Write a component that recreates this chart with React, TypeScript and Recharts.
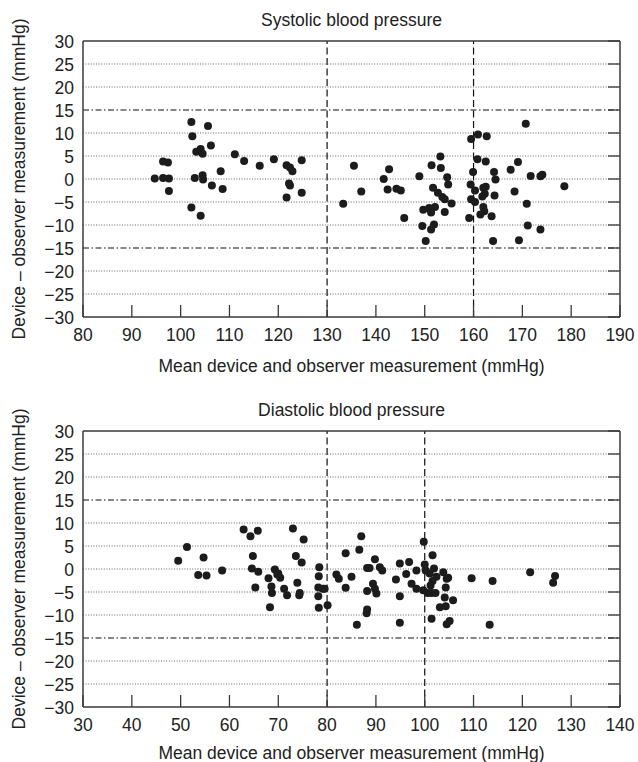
import React from 'react';
import { ScatterChart, Scatter, XAxis, YAxis, ReferenceLine } from 'recharts';

const systolicMean = [102.2,105.6,102.4,106.2,103.2,104.1,104.5,111.1,113.0,116.2,119.1,96.4,97.4,94.7,96.4,97.6,97.6,102.9,104.5,104.6,108.2,106.4,108.6,102.2,104.1,
121.7,122.4,122.9,124.8,122.2,122.4,121.7,124.8,135.5,133.3,137.0,141.6,142.7,142.4,144.2,145.1,145.8,148.9,151.4,153.2,153.3,154.6,151.7,152.7,153.6,154.1,149.7,150.9,152.1,151.3,154.1,149.5,151.9,151.3,150.2,
170.7,159.5,160.9,162.7,160.8,162.5,159.9,164.2,164.5,167.6,169.1,171.7,173.7,174.1,178.6,154.8,159.4,160.3,162.0,162.5,162.3,161.8,164.3,168.4,155.5,159.5,160.3,162.0,162.2,161.4,163.7,159.1,170.9,171.1,173.7,164.0,169.3];
const systolicDiff = [12.4,11.5,9.3,7.3,5.9,6.5,5.5,5.4,3.9,2.9,4.3,3.8,3.6,0.1,0.2,0.1,-2.6,0.2,0.8,-0.1,1.7,-1.4,-2.2,-6.2,-8.0,
3.0,2.5,1.7,4.1,-1.0,-1.4,-4.0,-3.0,2.9,-5.4,-2.7,0,2.1,-2.3,-2.1,-2.5,-8.5,0.6,3.0,4.9,2.4,0.4,-1.9,-3.0,-3.9,-4.4,-6.7,-6.3,-6.1,-7.3,-7.2,-10.2,-9.9,-11.0,-13.5,
12.0,8.7,9.7,9.3,4.3,3.8,1.5,1.5,-0.1,2.0,3.7,0.65,0.6,0.9,-1.6,-1.2,-1.2,-2.5,-1.9,-1.7,-3.2,-3.8,-3.6,-2.7,-5.3,-4.4,-5.0,-6.1,-7.0,-7.7,-8.1,-8.5,-5.4,-10.1,-11.0,-13.5,-13.3];

const diastolicMean = [49.5,51.3,54.7,53.6,55.3,58.5,62.9,64.3,65.8,64.8,64.6,65.9,65.3,69.3,69.8,68.0,68.6,68.7,68.3,
70.0,70.4,71.2,71.8,73.0,75.2,73.6,74.8,73.9,74.4,74.3,78.4,78.3,78.2,79.1,79.5,78.2,78.3,80.1,81.9,82.4,83.8,85.0,83.8,87.0,86.6,86.1,88.2,88.7,89.8,90.8,91.3,89.4,89.8,90.1,88.2,88.2,88.1,94.9,96.8,94.1,96.2,94.9,94.9,99.8,98.3,100.0,100.2,97.3,98.3,99.7,100.6,101.4,102.2,101.6,101.0,101.9,102.4,101.6,101.2,101.4,103.8,104.5,104.3,104.1,104.3,103.1,104.5,
104.8,105.8,105.1,109.6,113.9,113.3,121.6,126.7,126.3];
const diastolicDiff = [1.8,4.8,2.5,-1.3,-1.4,-0.3,8.6,7.1,8.3,2.8,0.1,-0.6,-4.0,-0.1,-1.2,-2.0,-3.8,-5.2,-8.3,
-1.0,-1.9,-4.3,-5.7,8.8,6.4,2.8,1.4,-3.0,-5.2,-5.7,0.4,-1.6,-4.0,-4.3,-4.3,-5.9,-8.4,-7.9,-1.2,-2.1,3.4,-1.7,-4.1,7.1,4.2,-12.1,0.2,0.2,2.1,0.4,-0.3,-3.2,-4.3,-5.3,-4.8,-8.8,-9.6,1.2,1.5,-2.3,-1.1,-5.9,-11.7,5.9,-0.3,1.0,-0.3,-3.2,-4.3,-4.6,-5.2,-5.2,-5.2,3.0,-1.0,0.1,-1.7,-2.6,-3.6,-10.8,-0.7,-2.1,-4.0,-6.2,-8.1,-8.3,-12.0,
-1.9,-6.8,-11.3,-2.0,-2.6,-12.1,-0.7,-1.5,-3.0];

const yTicks = [-30,-25,-20,-15,-10,-5,0,5,10,15,20,25,30];
const gridValues = [-25,-20,-10,-5,0,5,10,20,25];
const limitValues = [-15,15];
const systolicTicks = [80,90,100,110,120,130,140,150,160,170,180,190];
const diastolicTicks = [30,40,50,60,70,80,90,100,110,120,130,140];
const systolicCuts = [130,160];
const diastolicCuts = [80,100];

const FONT = '"Liberation Sans", Arial, Helvetica, sans-serif';
const FS = 17.5;
const TXT = '#222';
const AX = '#3a3a3a';
const TL = 12;

const fmt = (v: number) => (v < 0 ? '\u2212' + Math.abs(v) : String(v));

const BottomTick = (p: any) => (
  <g>
    <line x1={p.x} x2={p.x} y1={p.y} y2={p.y - TL} stroke={AX} strokeWidth={1.3} />
    <text x={p.x} y={p.y + 24} textAnchor="middle" fontSize={FS} fontFamily={FONT} fill={TXT}>{p.payload.value}</text>
  </g>
);
const TopTick = (p: any) => (
  <line x1={p.x} x2={p.x} y1={p.y} y2={p.y + TL} stroke={AX} strokeWidth={1.3} />
);
const LeftTick = (p: any) => (
  <text x={p.x - 9} y={p.y + 6.5} textAnchor="end" fontSize={FS} fontFamily={FONT} fill={TXT}>{fmt(p.payload.value)}</text>
);
const RightTick = (p: any) => (
  <line x1={p.x} x2={p.x - TL} y1={p.y} y2={p.y} stroke={AX} strokeWidth={1.3} />
);
const Dot = (p: any) => <circle cx={p.cx} cy={p.cy} r={4} fill="#1c1c1c" />;

function Panel({ title, means, diffs, domain, ticks, cuts, height, titleOffset }: any) {
  const data = means.map((m: number, i: number) => ({ x: m, y: diffs[i] }));
  const yLabel = (props: any) => {
    const vb = props.viewBox || { x: 82, y: 41, width: 1, height: 276 };
    const cx = vb.x + (vb.width || 0) - 57.8;
    const cy = vb.y + vb.height / 2;
    return (
      <text x={cx} y={cy} transform={`rotate(-90 ${cx} ${cy})`} textAnchor="middle" fontSize={FS} fontFamily={FONT} fill={TXT}>
        Device – observer measurement (mmHg)
      </text>
    );
  };
  return (
    <ScatterChart width={638} height={height} margin={{ top: 40, right: 17, bottom: height - 318, left: 82 }}>
      <XAxis type="number" dataKey="x" domain={domain} ticks={ticks} interval={0} height={1}
        tickSize={0} tickMargin={0} tickLine={false} tick={<BottomTick />}
        axisLine={{ stroke: AX, strokeWidth: 1.5 }} allowDataOverflow
        label={{ value: 'Mean device and observer measurement (mmHg)', position: 'bottom', offset: titleOffset, fill: TXT, fontSize: FS, fontFamily: FONT }} />
      <XAxis xAxisId="top" orientation="top" type="number" domain={domain} ticks={ticks} interval={0} height={1}
        tickSize={0} tickMargin={0} tickLine={false} tick={<TopTick />}
        axisLine={{ stroke: AX, strokeWidth: 1.5 }} allowDataOverflow
        label={{ value: title, position: 'top', offset: 14, fill: TXT, fontSize: FS, fontFamily: FONT }} />
      <YAxis type="number" dataKey="y" domain={[-30, 30]} ticks={yTicks} interval={0} width={1}
        tickSize={0} tickMargin={0} tickLine={false} tick={<LeftTick />}
        axisLine={{ stroke: AX, strokeWidth: 1.5 }} allowDataOverflow label={yLabel} />
      <YAxis yAxisId="right" orientation="right" type="number" domain={[-30, 30]} ticks={yTicks} interval={0} width={1}
        tickSize={0} tickMargin={0} tickLine={false} tick={<RightTick />}
        axisLine={{ stroke: AX, strokeWidth: 1.5 }} allowDataOverflow />
      {gridValues.map((v) => (
        <ReferenceLine key={'g' + v} y={v} stroke="#666" strokeWidth={1} strokeDasharray="1 1.6" />
      ))}
      {limitValues.map((v) => (
        <ReferenceLine key={'l' + v} y={v} stroke="#111" strokeWidth={1.1} strokeDasharray="6 2.5 1.5 2.5" />
      ))}
      {cuts.map((v: number) => (
        <ReferenceLine key={'c' + v} x={v} stroke="#111" strokeWidth={1.2} strokeDasharray="7 3.5" />
      ))}
      <Scatter data={data} shape={<Dot />} isAnimationActive={false} />
    </ScatterChart>
  );
}

export default function App() {
  return (
    <div style={{ position: 'absolute', left: 0, top: 0, width: 638, height: 762, background: '#fff', overflow: 'hidden' }}>
      <Panel title="Systolic blood pressure" means={systolicMean} diffs={systolicDiff}
        domain={[80, 190]} ticks={systolicTicks} cuts={systolicCuts} height={390} titleOffset={42} />
      <Panel title="Diastolic blood pressure" means={diastolicMean} diffs={diastolicDiff}
        domain={[30, 140]} ticks={diastolicTicks} cuts={diastolicCuts} height={372} titleOffset={38.5} />
    </div>
  );
}
